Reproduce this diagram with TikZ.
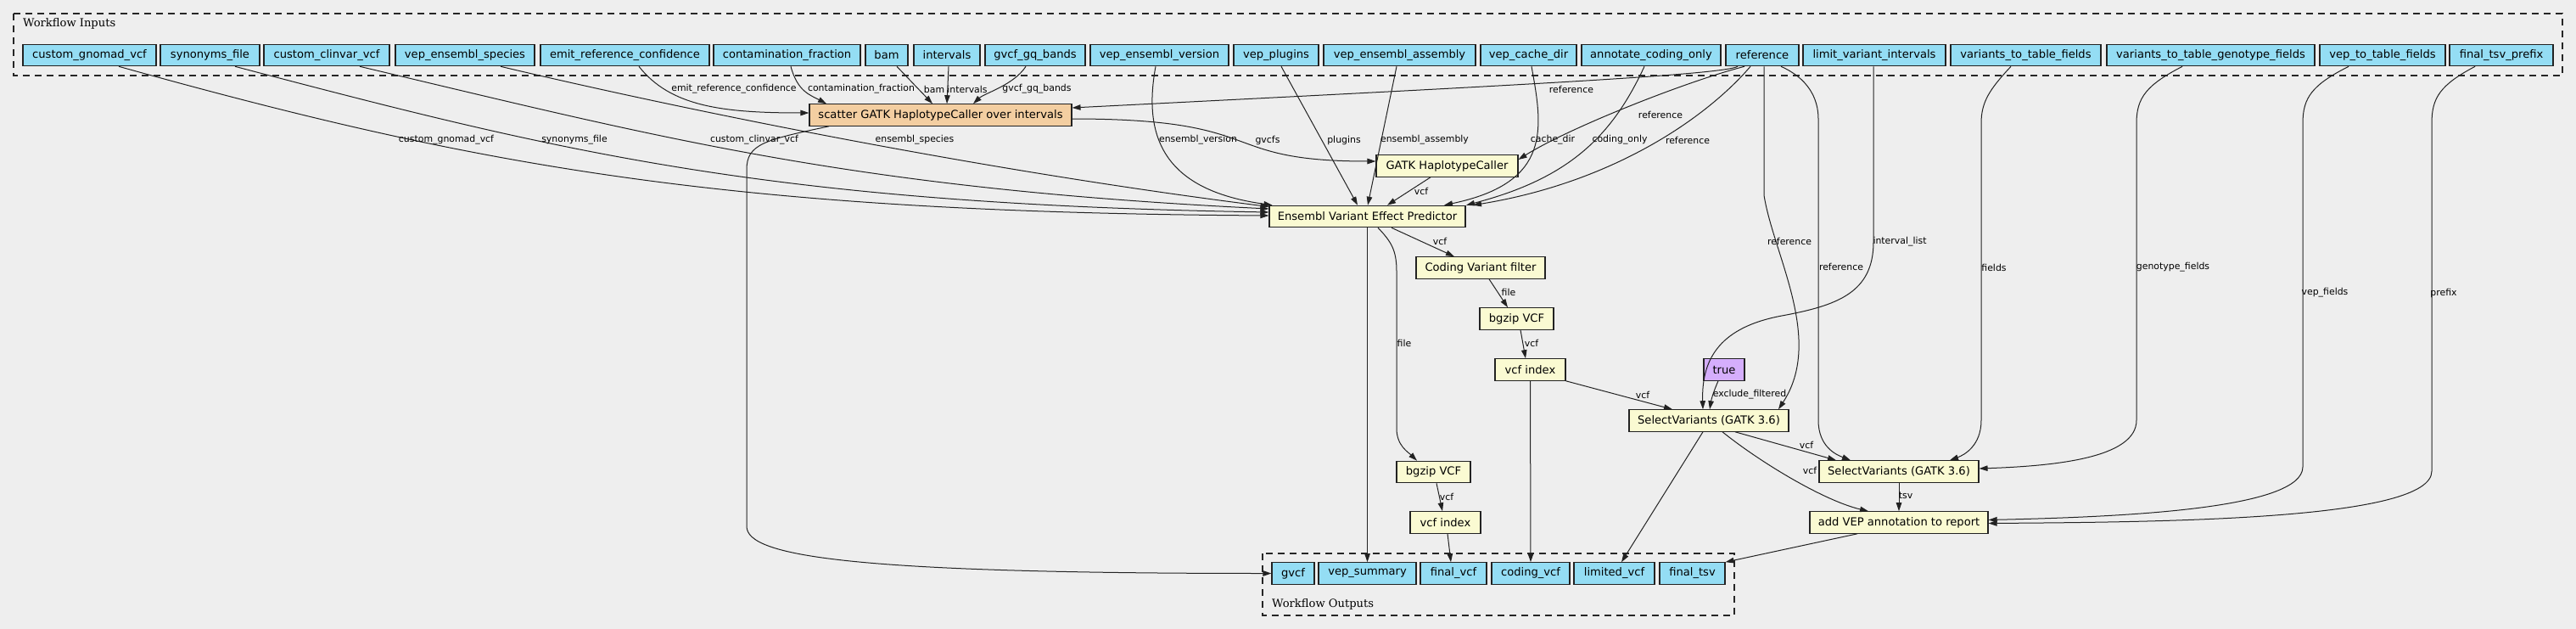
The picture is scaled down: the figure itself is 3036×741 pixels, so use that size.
\documentclass[tikz,border=0pt]{standalone}
\usepackage{fontspec}
\setmainfont{DejaVu Sans}
\newfontfamily\clusterfont{DejaVu Serif}
\usetikzlibrary{arrows.meta}
\definecolor{canvas}{HTML}{EEEEEE}
\definecolor{inputblue}{HTML}{94DDF4}
\definecolor{stepyellow}{HTML}{FAFAD2}
\definecolor{scatterorange}{HTML}{F3CEA1}
\definecolor{constpurple}{HTML}{D5AEFC}
\definecolor{edgegray}{HTML}{222222}
\tikzset{
  box/.style={draw=edgegray, line width=1.1pt, inner sep=0pt, minimum height=25.5pt, font=\fontsize{13.1pt}{15pt}\selectfont},
  inbox/.style={box, fill=inputblue},
  stepbox/.style={box, fill=stepyellow},
  scatterbox/.style={box, fill=scatterorange},
  constbox/.style={box, fill=constpurple},
  flow/.style={draw=edgegray, line width=1pt, -{Triangle[length=10pt,width=6.5pt]}},
  lbl/.style={font=\fontsize{10.9pt}{12pt}\selectfont, inner sep=0pt},
  cluster/.style={draw=black!85, dash pattern=on 8pt off 6pt, line width=1.2pt},
  clustertitle/.style={anchor=west, inner sep=0pt, font={\fontsize{13.1pt}{15pt}\clusterfont}},
}
\begin{document}
\begin{tikzpicture}[x=1pt, y=-1pt]
    \fill[canvas] (0,0) rectangle (3036,741);
    \useasboundingbox (0,0) rectangle (3036,741);

    % clusters
    \draw[cluster] (16,16) rectangle (3020,89);
    \node[clustertitle] (inputstitle) at (27,28) {Workflow Inputs};
    \draw[cluster] (1488,652) rectangle (2044,725);
    \node[clustertitle] (outputstitle) at (1499,712) {Workflow Outputs};

    % workflow inputs
    \foreach \id/\cx/\w/\txt in {
        gnomad/105.5/157pt/custom\_gnomad\_vcf,
        synonyms/247.5/117pt/synonyms\_file,
        clinvar/385/148pt/custom\_clinvar\_vcf,
        species/548/164pt/vep\_ensembl\_species,
        emit/736.5/199pt/emit\_reference\_confidence,
        contam/927.5/173pt/contamination\_fraction,
        bam/1045/50pt/bam,
        intervals/1116/78pt/intervals,
        gqbands/1220/118pt/gvcf\_gq\_bands,
        vepversion/1366.5/163pt/vep\_ensembl\_version,
        plugins/1504/100pt/vep\_plugins,
        assembly/1649.5/179pt/vep\_ensembl\_assembly,
        cachedir/1801.5/113pt/vep\_cache\_dir,
        codingonly/1946/164pt/annotate\_coding\_only,
        reference/2077/86pt/reference,
        limitint/2209/168pt/limit\_variant\_intervals,
        tablefields/2387.5/177pt/variants\_to\_table\_fields,
        genofields/2605.5/245pt/variants\_to\_table\_genotype\_fields,
        veptable/2808/148pt/vep\_to\_table\_fields,
        prefix/2948/122pt/final\_tsv\_prefix} {
        \node[inbox, minimum width=\w] (\id) at (\cx,65) {\txt};
    }

    % workflow outputs
    \foreach \id/\cx/\w/\txt in {
        gvcf/1524/50pt/gvcf,
        vepsummary/1611.5/115pt/vep\_summary,
        finalvcf/1713/78pt/final\_vcf,
        codingvcf/1804/92pt/coding\_vcf,
        limitedvcf/1902.5/95pt/limited\_vcf,
        finaltsv/1994.5/77pt/final\_tsv} {
        \node[inbox, minimum width=\w] (\id) at (\cx,675.5) {\txt};
    }

    % steps
    \node[scatterbox, minimum width=309pt] (scatter) at (1108.5,135.5) {scatter GATK HaplotypeCaller over intervals};
    \node[stepbox, minimum width=167pt] (gatkhc) at (1705.5,195.5) {GATK HaplotypeCaller};
    \node[stepbox, minimum width=231pt] (vep) at (1611.5,255) {Ensembl Variant Effect Predictor};
    \node[stepbox, minimum width=152pt] (codingfilter) at (1745,315.5) {Coding Variant filter};
    \node[stepbox, minimum width=87pt] (bgzipA) at (1787.5,375.5) {bgzip VCF};
    \node[stepbox, minimum width=83pt] (vcfindexA) at (1803.5,435.5) {vcf index};
    \node[constbox, minimum width=48pt] (truenode) at (2032,435.5) {true};
    \node[stepbox, minimum width=188pt] (selectA) at (2014,495.5) {SelectVariants (GATK 3.6)};
    \node[stepbox, minimum width=188pt] (selectB) at (2238,555.5) {SelectVariants (GATK 3.6)};
    \node[stepbox, minimum width=87pt] (bgzipB) at (1689.5,556) {bgzip VCF};
    \node[stepbox, minimum width=83pt] (vcfindexB) at (1703.5,615.5) {vcf index};
    \node[stepbox, minimum width=210pt] (addvep) at (2238,615.5) {add VEP annotation to report};

    % inputs into the predictor
    \draw[flow] ([xshift=34.5pt]gnomad.south) .. controls (560,195) and (850,250) .. ([yshift=1pt]vep.west)
        node[lbl, at={(526,165)}] {custom\_gnomad\_vcf};
    \draw[flow] ([xshift=29.5pt]synonyms.south) .. controls (657,178) and (900,240) .. ([yshift=5pt]vep.west)
        node[lbl, at={(677,165)}] {synonyms\_file};
    \draw[flow] ([xshift=39pt]clinvar.south) .. controls (774,161) and (1000,222) .. ([yshift=9pt]vep.west)
        node[lbl, at={(889,165)}] {custom\_clinvar\_vcf};
    \draw[flow] ([xshift=42pt]species.south) .. controls (800,128) and (1150,200) .. ([yshift=11.5pt]vep.west)
        node[lbl, at={(1078,165)}] {ensembl\_species};
    \draw[flow] ([xshift=-4.5pt]vepversion.south) .. controls (1345,170) and (1380,225) .. ([xshift=4pt]vep.north west)
        node[lbl, at={(1412,165)}] {ensembl\_version};
    \draw[flow] ([xshift=6pt]plugins.south) -- ([xshift=-11.5pt]vep.north)
        node[lbl, at={(1584,165)}] {plugins};
    \draw[flow] ([xshift=-3.5pt]assembly.south) -- ([xshift=0.5pt]vep.north)
        node[lbl, at={(1679,165)}] {ensembl\_assembly};
    \draw[flow] ([xshift=3.5pt]cachedir.south) .. controls (1818,150) and (1830,215) .. ([xshift=90.5pt]vep.north)
        node[lbl, at={(1830,165)}] {cache\_dir};
    \draw[flow] ([xshift=-8pt]codingonly.south) .. controls (1900,160) and (1850,210) .. ([xshift=116.5pt]vep.north)
        node[lbl, at={(1909,165)}] {coding\_only};
    \draw[flow] ([xshift=-14pt]reference.south) .. controls (2010,140) and (1900,215) .. ([xshift=124.5pt]vep.north)
        node[lbl, at={(1989,165)}] {reference};

    % inputs into the scatter
    \draw[flow] ([xshift=16.5pt]emit.south) .. controls (790,125) and (850,133) .. ([yshift=2.5pt]scatter.west)
        node[lbl, at={(865,105)}] {emit\_reference\_confidence};
    \draw[flow] ([xshift=4.5pt]contam.south) .. controls (940,108) and (955,112) .. ([xshift=-134.5pt]scatter.north)
        node[lbl, at={(1015,105)}] {contamination\_fraction};
    \draw[flow] ([xshift=12pt]bam.south) -- ([xshift=-9.5pt]scatter.north)
        node[lbl, at={(1101,105)}] {bam};
    \draw[flow] ([xshift=2pt]intervals.south) -- ([xshift=7.5pt]scatter.north)
        node[lbl, at={(1140,105)}] {intervals};
    \draw[flow] ([xshift=-11pt]gqbands.south) .. controls (1195,100) and (1160,110) .. ([xshift=38.5pt]scatter.north)
        node[lbl, at={(1222,105)}] {gvcf\_gq\_bands};
    \draw[flow] ([xshift=-29pt]reference.south) .. controls (2030,88) and (1800,100) .. ([yshift=8.5pt]scatter.east)
        node[lbl, at={(1852,105)}] {reference};

    % haplotype caller
    \draw[flow] ([yshift=-4.5pt]scatter.east) .. controls (1500,140) and (1430,190) .. ([yshift=5.5pt]gatkhc.west)
        node[lbl, at={(1494,165)}] {gvcfs};
    \draw[flow] ([xshift=-131.5pt]scatter.south) .. controls (900,165) and (880,170) .. (880,200)
        -- (880,620) .. controls (880,655) and (1000,675.5) .. (gvcf.west);
    \draw[flow] ([xshift=-21pt]reference.south) .. controls (1990,95) and (1850,150) .. ([yshift=7.5pt]gatkhc.east)
        node[lbl, at={(1957,135)}] {reference};
    \draw[flow] ([xshift=-19.5pt]gatkhc.south) -- ([xshift=23.5pt]vep.north)
        node[lbl, at={(1675,225)}] {vcf};

    % predictor outputs
    \draw[flow] ([xshift=28.5pt]vep.south) -- ([xshift=-31pt]codingfilter.north)
        node[lbl, at={(1697,284)}] {vcf};
    \draw[flow] (vep.south) -- (vepsummary.north);
    \draw[flow] ([xshift=12.5pt]vep.south) .. controls (1640,285) and (1646,295) .. (1646,320)
        -- (1646,505) .. controls (1646,525) and (1660,533) .. ([xshift=-19.5pt]bgzipB.north)
        node[lbl, at={(1655,404)}] {file};
    \draw[flow] ([xshift=10pt]codingfilter.south) -- ([xshift=-10.5pt]bgzipA.north)
        node[lbl, at={(1778,344)}] {file};
    \draw[flow] ([xshift=4.5pt]bgzipA.south) -- ([xshift=-5.5pt]vcfindexA.north)
        node[lbl, at={(1805,404)}] {vcf};
    \draw[flow] (vcfindexA.south east) -- ([xshift=-43pt]selectA.north)
        node[lbl, at={(1936,465)}] {vcf};
    \draw[flow] (vcfindexA.south) -- (codingvcf.north);
    \draw[flow] ([xshift=3.5pt]bgzipB.south) -- ([xshift=-3.5pt]vcfindexB.north)
        node[lbl, at={(1705,585)}] {vcf};
    \draw[flow] ([xshift=2.5pt]vcfindexB.south) -- ([xshift=-3pt]finalvcf.north);

    % select variants
    \draw[flow] ([xshift=-7pt]truenode.south) .. controls (2020,460) and (2017,470) .. ([xshift=1pt]selectA.north)
        node[lbl, at={(2062,465)}] {exclude\_filtered};
    \draw[flow] ([xshift=2pt]reference.south) -- (2079,230) .. controls (2090,300) and (2150,400) .. ([xshift=82pt]selectA.north)
        node[lbl, at={(2109,284)}] {reference};
    \draw[flow] ([xshift=-1pt]limitint.south) -- (2208,285) .. controls (2208,345) and (2165,360) .. (2100,372)
        .. controls (2030,385) and (2005,420) .. ([xshift=-7pt]selectA.north)
        node[lbl, at={(2239,285)}] {interval\_list};
    \draw[flow] ([xshift=22pt]reference.south) .. controls (2130,92) and (2143,115) .. (2143,140)
        -- (2143,495) .. controls (2143,527) and (2165,536) .. ([xshift=-57pt]selectB.north)
        node[lbl, at={(2170,314)}] {reference};
    \draw[flow] ([xshift=31pt]selectA.south) -- ([xshift=-74pt]selectB.north)
        node[lbl, at={(2129,524)}] {vcf};
    \draw[flow] ([xshift=16pt]selectA.south) .. controls (2075,545) and (2150,590) .. ([xshift=-36pt]addvep.north)
        node[lbl, at={(2133,554)}] {vcf};
    \draw[flow] ([xshift=-7pt]selectA.south) -- ([xshift=8.5pt]limitedvcf.north);
    \draw[flow] ([xshift=-17.5pt]tablefields.south) .. controls (2345,105) and (2335,120) .. (2335,145)
        -- (2335,495) .. controls (2335,525) and (2315,536) .. ([xshift=60pt]selectB.north)
        node[lbl, at={(2350,315)}] {fields};
    \draw[flow] ([xshift=-33.5pt]genofields.south) .. controls (2530,100) and (2518,115) .. (2518,145)
        -- (2518,495) .. controls (2518,540) and (2420,549) .. ([yshift=3.5pt]selectB.east)
        node[lbl, at={(2561,315)}] {genotype\_fields};

    % report
    \draw[flow] (selectB.south) -- (addvep.north)
        node[lbl, at={(2246,584)}] {tsv};
    \draw[flow] ([xshift=-40pt]veptable.south) .. controls (2725,100) and (2714,115) .. (2714,145)
        -- (2714,550) .. controls (2714,600) and (2500,609) .. ([yshift=3pt]addvep.east)
        node[lbl, at={(2740,345)}] {vep\_fields};
    \draw[flow] ([xshift=-31pt]prefix.south) .. controls (2876,100) and (2866,115) .. (2866,145)
        -- (2866,555) .. controls (2866,612) and (2560,615) .. ([yshift=-1pt]addvep.east)
        node[lbl, at={(2880,345)}] {prefix};
    \draw[flow] ([xshift=-49pt]addvep.south) -- (finaltsv.north east);

\end{tikzpicture}
\end{document}
